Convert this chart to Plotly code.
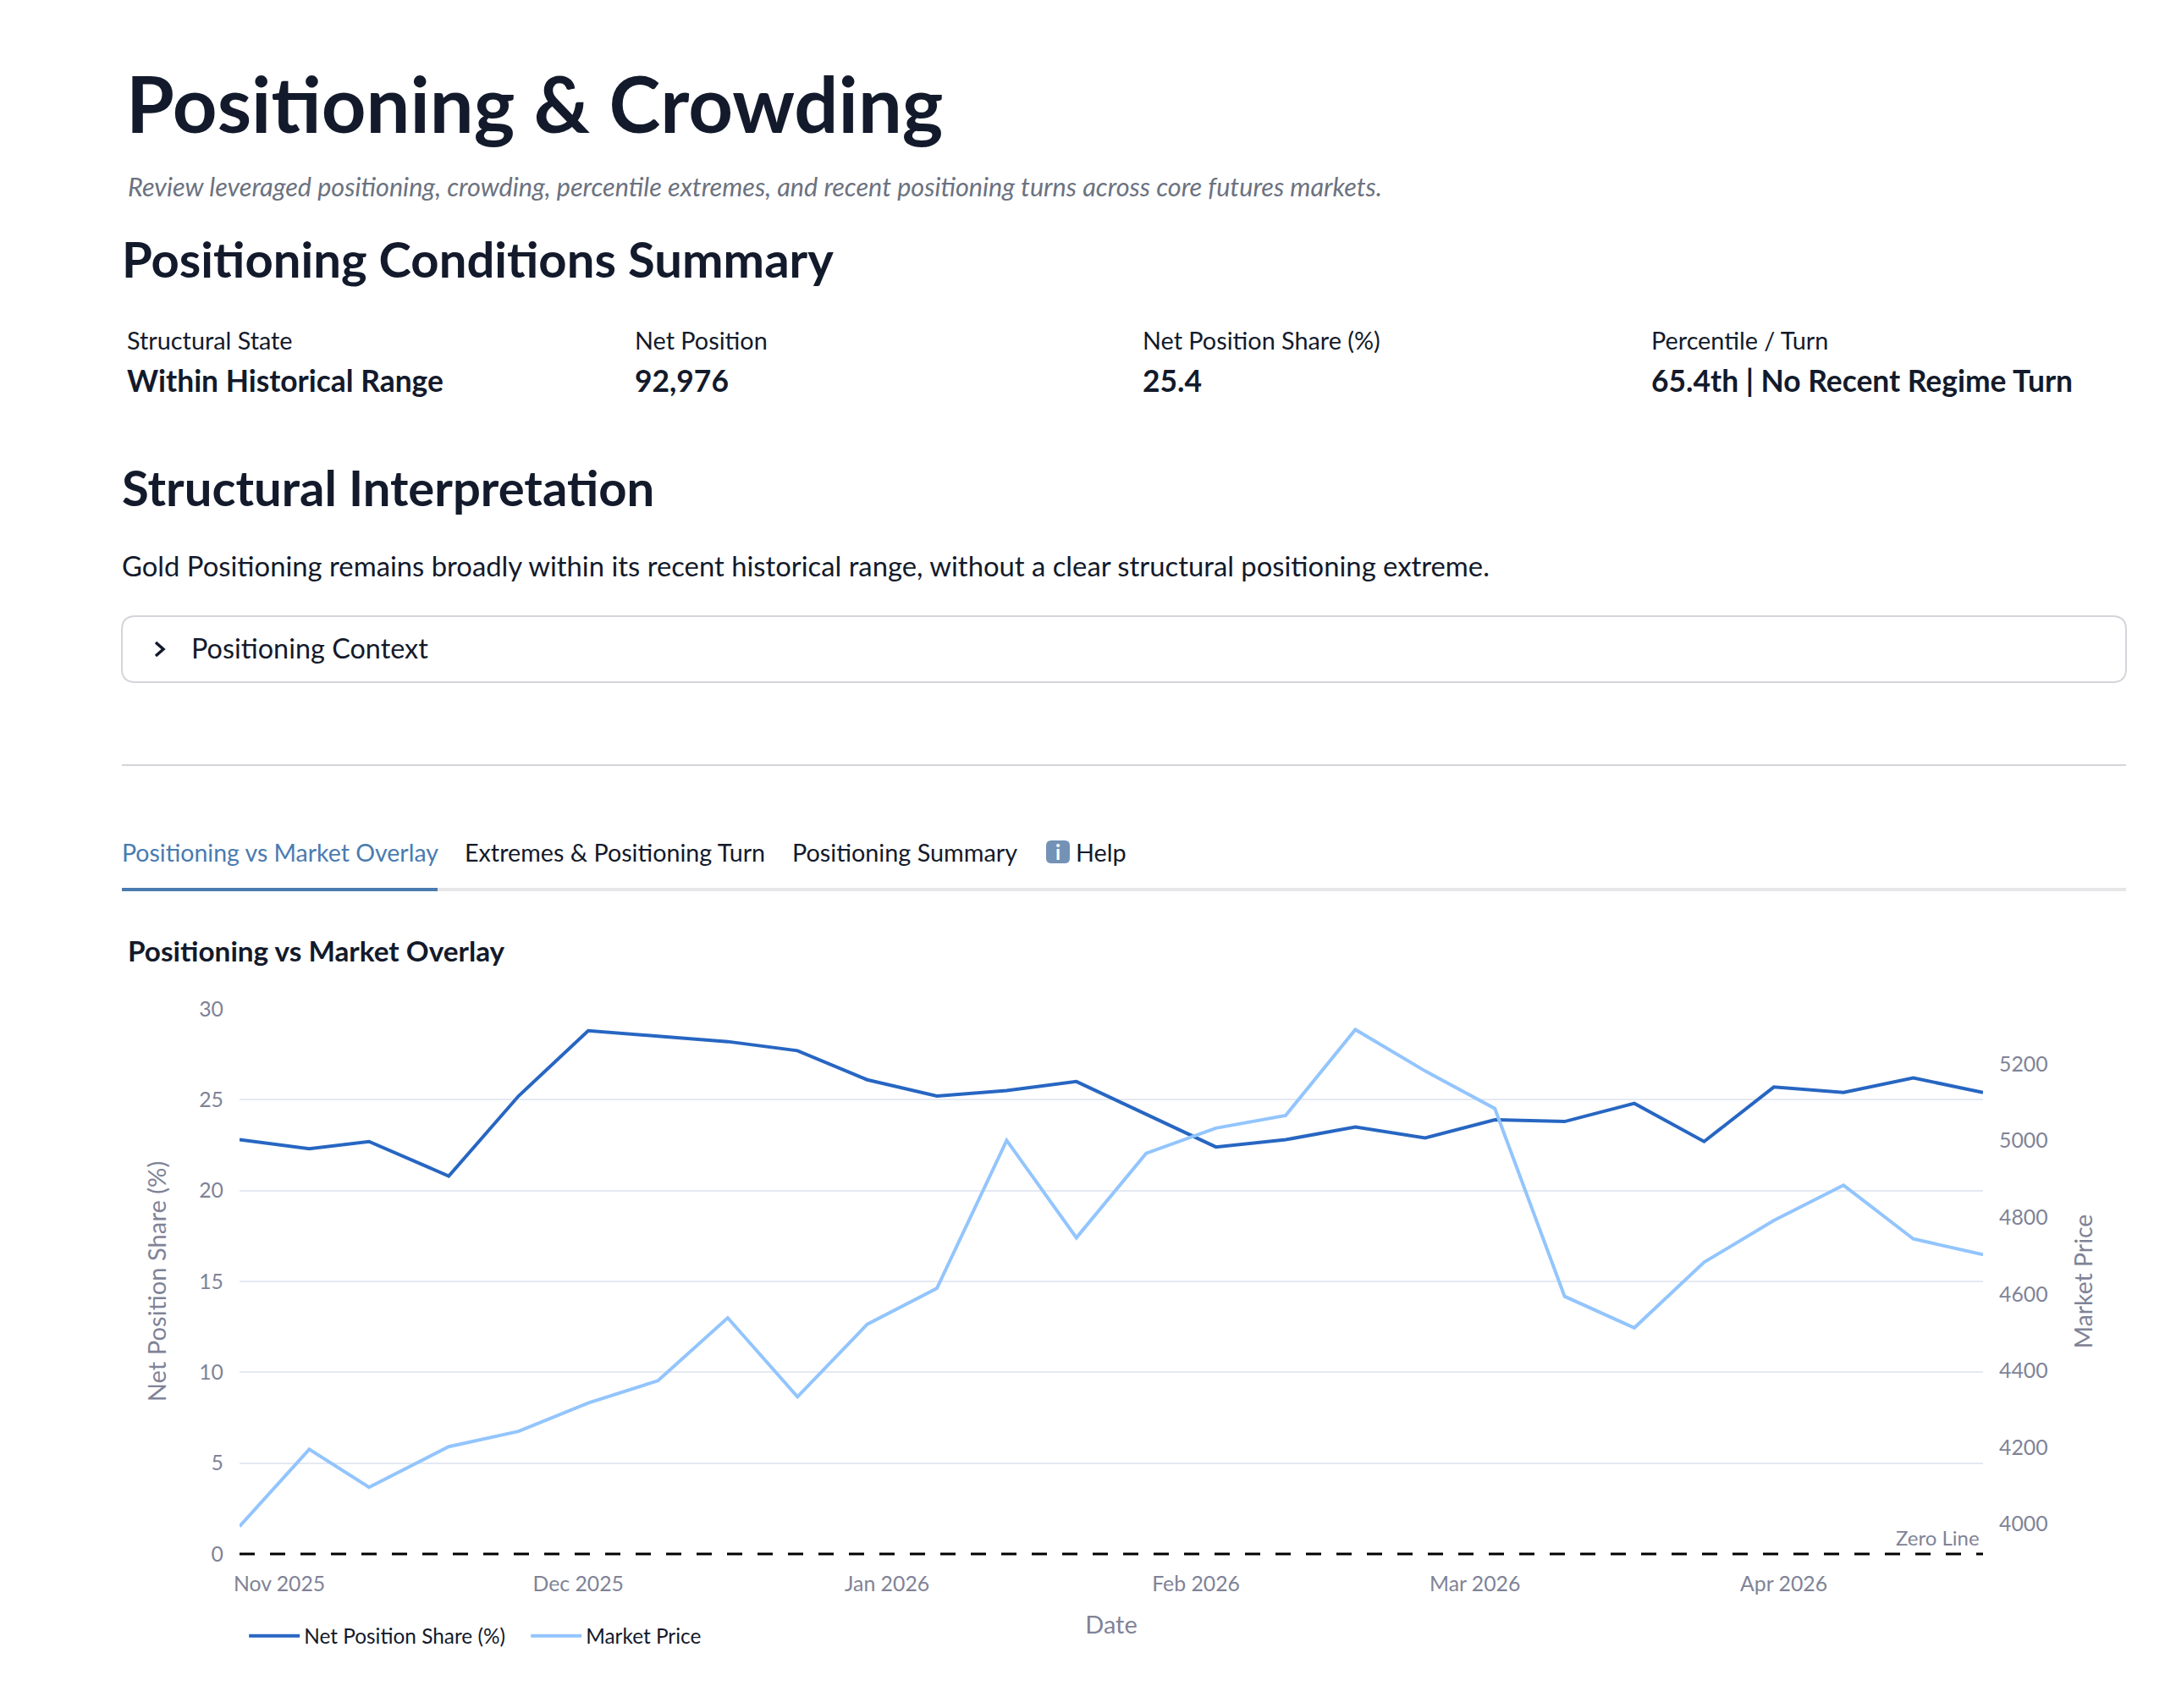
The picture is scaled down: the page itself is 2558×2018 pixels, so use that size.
#!/usr/bin/env python3
"""plot.py - Positioning & Crowding page, drawn as one Plotly figure"""

import plotly.graph_objects as go

# Data
dates = [
    "2025-10-28", "2025-11-04", "2025-11-10", "2025-11-18", "2025-11-25",
    "2025-12-02", "2025-12-09", "2025-12-16", "2025-12-23", "2025-12-30",
    "2026-01-06", "2026-01-13", "2026-01-20", "2026-01-27", "2026-02-03",
    "2026-02-10", "2026-02-17", "2026-02-24", "2026-03-03", "2026-03-10",
    "2026-03-17", "2026-03-24", "2026-03-31", "2026-04-07", "2026-04-14",
    "2026-04-21",
]
net_share = [
    22.8, 22.3, 22.7, 20.8, 25.2, 28.8, 28.5, 28.2, 27.7, 26.1, 25.2, 25.5, 26.0,
    24.2, 22.4, 22.8, 23.5, 22.9, 23.9, 23.8, 24.8, 22.7, 25.7, 25.4, 26.2, 25.4,
]
market_price = [
    3994, 4195, 4096, 4202, 4242, 4316, 4374, 4538, 4332, 4521, 4615, 5001, 4747,
    4967, 5033, 5066, 5290, 5182, 5084, 4594, 4512, 4683, 4792, 4884, 4744, 4703,
]
metric_labels = ["Structural State", "Net Position", "Net Position Share (%)", "Percentile / Turn"]
metric_values = ["Within Historical Range", "92,976", "25.4", "65.4th | No Recent Regime Turn"]
tab_labels = ["Positioning vs Market Overlay", "Extremes & Positioning Turn", "Positioning Summary"]

# Page geometry, in pixels of the reference
OFFSET = 8  # body margin of the page
FIG_W, FIG_H = 2542, 2000
LEFT, RIGHT, TOP, BOTTOM = 283, 2343, 1192, 1836
FONT = "Lato"
DARK = "#131a2b"
GREY = "#7f8397"
BORDER = "#d3d5da"
BLUE_TAB = "#4a7bb0"


def px(x):
    return (x - LEFT) / (RIGHT - LEFT)


def py(y):
    return 1 - (y - TOP) / (BOTTOM - TOP)


fig = go.Figure()
fig.add_trace(go.Scatter(x=dates, y=net_share, mode="lines", name="Net Position Share (%)",
                         line=dict(color="#2766c2", width=4)))
fig.add_trace(go.Scatter(x=dates, y=market_price, mode="lines", name="Market Price", yaxis="y2",
                         line=dict(color="#93c5fd", width=4)))


def text(x, y, s, size, color=DARK, bold=False, italic=False, anchor="left"):
    # annotations sit about 2px right of and below the spot asked for
    fig.add_annotation(
        x=px(x - 2), y=py(y - 2), xref="paper", yref="paper", text=s, showarrow=False,
        xanchor=anchor, yanchor="middle", borderpad=0,
        font=dict(family=FONT, size=size, color=color,
                  weight="bold" if bold else "normal",
                  style="italic" if italic else "normal"),
    )


def rule(x0, x1, y, color, width):
    fig.add_shape(type="line", xref="paper", yref="paper", x0=px(x0), x1=px(x1), y0=py(y), y1=py(y),
                  line=dict(color=color, width=width))


def round_box(x0, y0, x1, y1, r, line=None, fill=None):
    p = (f"M {px(x0 + r)} {py(y0)} L {px(x1 - r)} {py(y0)} Q {px(x1)} {py(y0)} {px(x1)} {py(y0 + r)} "
         f"L {px(x1)} {py(y1 - r)} Q {px(x1)} {py(y1)} {px(x1 - r)} {py(y1)} "
         f"L {px(x0 + r)} {py(y1)} Q {px(x0)} {py(y1)} {px(x0)} {py(y1 - r)} "
         f"L {px(x0)} {py(y0 + r)} Q {px(x0)} {py(y0)} {px(x0 + r)} {py(y0)} Z")
    fig.add_shape(type="path", xref="paper", yref="paper", path=p, fillcolor=fill,
                  line=dict(color=line, width=2) if line else dict(width=0))


# Heading block
text(150, 123, "Positioning &amp; Crowding", 92, bold=True)
text(152, 222, "Review leveraged positioning, crowding, percentile extremes, and recent positioning "
     "turns across core futures markets.", 30.6, color="#6b7280", italic=True)
text(145, 308, "Positioning Conditions Summary", 58, bold=True)

for x, label, value in zip([151, 751, 1351, 1952], metric_labels, metric_values):
    text(x, 404, label, 28.8)
    text(x, 451, value, 35.4, bold=True)

text(145, 577, "Structural Interpretation", 58, bold=True)
text(145, 670, "Gold Positioning remains broadly within its recent historical range, "
     "without a clear structural positioning extreme.", 32.8)

# Collapsed expander
round_box(144, 728, 2512, 806, 16, line=BORDER)
fig.add_shape(type="path", xref="paper", yref="paper",
              path=f"M {px(184)} {py(759)} L {px(193)} {py(767)} L {px(184)} {py(775)}",
              line=dict(color=DARK, width=3.5))
text(227, 767, "Positioning Context", 32.4)

rule(144, 2512, 904, BORDER, 2)

# Tabs
text(145, 1009, tab_labels[0], 28.5, color=BLUE_TAB)
text(550, 1009, tab_labels[1], 28.7)
text(937, 1009, tab_labels[2], 28.8)
round_box(1236, 993, 1264, 1020, 6, fill="#7392b6")
text(1252, 1008, "i", 24, color="white", bold=True, anchor="center")
text(1272, 1009, "Help", 28.8)
rule(144, 2512, 1051, "#e6e6e8", 4)
rule(144, 517, 1051, BLUE_TAB, 4)

text(152, 1125, "Positioning vs Market Overlay", 33.3, bold=True)

# Zero reference, on paper so the plot area does not clip half of it
fig.add_shape(type="line", xref="paper", yref="paper", x0=0, x1=1, y0=0, y1=0,
              line=dict(color="black", width=3, dash="18px,18px"))
fig.add_annotation(x=1, y=0, xref="paper", yref="y", text="Zero Line", showarrow=False,
                   xanchor="right", yanchor="bottom", xshift=-2, yshift=3,
                   font=dict(family=FONT, size=24, color=GREY))

fig.update_layout(
    width=FIG_W,
    height=FIG_H,
    margin=dict(l=LEFT - OFFSET, r=FIG_W - (RIGHT - OFFSET), t=TOP - OFFSET, b=FIG_H - (BOTTOM - OFFSET)),
    paper_bgcolor="white",
    plot_bgcolor="white",
    font=dict(family=FONT, size=24.8, color=GREY),
    showlegend=True,
    legend=dict(orientation="h", x=0.003, xanchor="left", y=py(1933), yanchor="middle",
                itemwidth=60, entrywidth=258, entrywidthmode="pixels",
                font=dict(family=FONT, size=24.4, color=DARK)),
    xaxis=dict(
        type="date", range=[dates[0], dates[-1]], tickformat="%b %Y", dtick="M1",
        tick0="2025-11-01", showgrid=False, zeroline=False, showline=False, ticks="",
        ticklabelstandoff=18,
        title=dict(text="Date", standoff=25, font=dict(size=29, color=GREY)),
    ),
    yaxis=dict(
        range=[0, 30], dtick=5, gridcolor="#e4e9f2", gridwidth=2, zeroline=False, ticks="",
        ticklabelstandoff=18,
        title=dict(text="Net Position Share (%)", standoff=30, font=dict(size=29.2, color=GREY)),
    ),
    yaxis2=dict(
        overlaying="y", side="right", range=[3922, 5344], dtick=200, showgrid=False,
        zeroline=False, ticks="", ticklabelstandoff=18,
        title=dict(text="Market Price", standoff=33, font=dict(size=28.4, color=GREY)),
    ),
)

fig.write_html("out.html")
